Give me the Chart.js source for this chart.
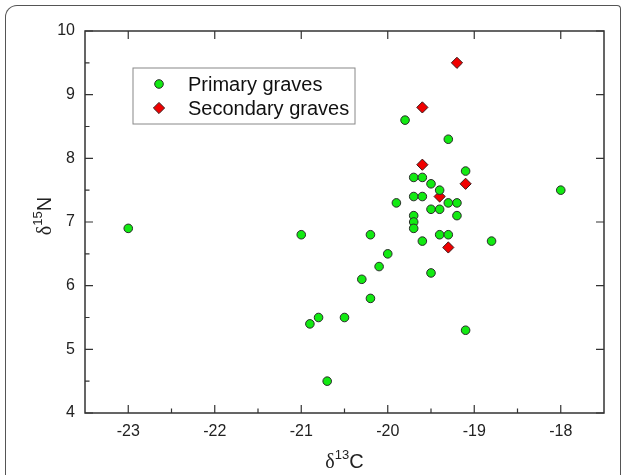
<!DOCTYPE html>
<html lang="en">
<head>
  <meta charset="UTF-8" />
  <title>Carbon and nitrogen isotopes by grave type</title>
  <script src="https://cdn.jsdelivr.net/npm/chart.js"></script>
  <style>
    body {
      margin: 0;
      background: #fff;
      overflow: hidden;
    }
    .frame {
      position: absolute;
      left: 5px;
      top: 5px;
      width: 614px;
      height: 520px;
      border: 1.5px solid #555;
      border-bottom: none;
      border-radius: 12px 4px 0 0;
    }
    #isoChart {
      position: absolute;
      left: 0;
      top: 0;
    }
  </style>
</head>
<body>

<div class="frame"></div>
<canvas id="isoChart" width="624" height="475"></canvas>

<script>
  // d13C / d15N values
  const primaryC = [-23.0, -21.0, -20.9, -20.8, -20.7, -20.5, -20.3, -20.2, -20.2, -20.1,
                    -20.0, -19.9, -19.8, -19.7, -19.6, -19.7, -19.6, -19.7, -19.7, -19.7,
                    -19.6, -19.5, -19.5, -19.5, -19.4, -19.4, -19.4, -19.3, -19.3, -19.3,
                    -19.2, -19.2, -19.1, -19.1, -18.8, -18.0];
  const primaryN = [6.9, 6.8, 5.4, 5.5, 4.5, 5.5, 6.1, 6.8, 5.8, 6.3,
                    6.5, 7.3, 8.6, 7.7, 7.7, 7.4, 7.4, 7.1, 7.0, 6.9,
                    6.7, 7.6, 7.2, 6.2, 7.5, 7.2, 6.8, 8.3, 7.3, 6.8,
                    7.3, 7.1, 7.8, 5.3, 6.7, 7.5];

  const secondaryC = [-19.2, -19.6, -19.6, -19.1, -19.4, -19.3];
  const secondaryN = [9.5, 8.8, 7.9, 7.6, 7.4, 6.6];

  const seriesNames = ['Primary graves', 'Secondary graves'];

  const xTicks = [-23, -22, -21, -20, -19, -18];
  const xMinor = [-22.5, -21.5, -20.5, -19.5, -18.5];
  const yTicks = [4, 5, 6, 7, 8, 9, 10];
  const yMinor = [4.5, 5.5, 6.5, 7.5, 8.5, 9.5];

  const FONT = 'Liberation Sans, Arial, sans-serif';

  function toPoints(xs, ys) {
    return xs.map((x, i) => ({ x: x, y: ys[i] }));
  }

  // frame, inward ticks, axis titles and boxed legend
  const decorPlugin = {
    id: 'decor',
    afterDraw(chart) {
      const ctx = chart.ctx;
      const a = chart.chartArea;
      const xs = chart.scales.x;
      const ys = chart.scales.y;
      ctx.save();
      ctx.strokeStyle = '#333';
      ctx.lineWidth = 1.5;
      ctx.strokeRect(a.left, a.top, a.right - a.left, a.bottom - a.top);

      ctx.lineWidth = 1.2;
      ctx.beginPath();
      xTicks.forEach(v => {
        const px = xs.getPixelForValue(v);
        ctx.moveTo(px, a.bottom); ctx.lineTo(px, a.bottom - 8);
        ctx.moveTo(px, a.top); ctx.lineTo(px, a.top + 8);
      });
      xMinor.forEach(v => {
        const px = xs.getPixelForValue(v);
        ctx.moveTo(px, a.bottom); ctx.lineTo(px, a.bottom - 4.5);
      });
      yTicks.forEach(v => {
        const py = ys.getPixelForValue(v);
        ctx.moveTo(a.left, py); ctx.lineTo(a.left + 8, py);
        ctx.moveTo(a.right, py); ctx.lineTo(a.right - 8, py);
      });
      yMinor.forEach(v => {
        const py = ys.getPixelForValue(v);
        ctx.moveTo(a.left, py); ctx.lineTo(a.left + 4.5, py);
      });
      ctx.stroke();

      // axis titles with superscripts
      ctx.fillStyle = '#222';
      ctx.textBaseline = 'alphabetic';
      function isoLabel(x, y, mass, elem) {
        ctx.textAlign = 'left';
        ctx.font = '20px Liberation Serif, serif';
        const wd = ctx.measureText('\u03b4').width;
        ctx.font = '13px ' + FONT;
        const wm = ctx.measureText(mass).width;
        ctx.font = '20px ' + FONT;
        const we = ctx.measureText(elem).width;
        let cx = x - (wd + wm + we) / 2;
        ctx.font = '20px Liberation Serif, serif';
        ctx.fillText('\u03b4', cx, y);
        cx += wd;
        ctx.font = '13px ' + FONT;
        ctx.fillText(mass, cx, y - 9);
        cx += wm;
        ctx.font = '20px ' + FONT;
        ctx.fillText(elem, cx, y);
      }
      isoLabel((a.left + a.right) / 2, 468, '13', 'C');
      ctx.save();
      ctx.translate(51, (a.top + a.bottom) / 2 - 6);
      ctx.rotate(-Math.PI / 2);
      isoLabel(0, 0, '15', 'N');
      ctx.restore();

      // legend box
      const lx = 133, ly = 68, lw = 222, lh = 56;
      ctx.strokeStyle = '#888';
      ctx.lineWidth = 1;
      ctx.strokeRect(lx, ly, lw, lh);
      ctx.font = '20px ' + FONT;
      ctx.textAlign = 'left';
      ctx.textBaseline = 'middle';
      chart.data.datasets.forEach((ds, i) => {
        const my = ly + 16 + i * 24;
        ctx.fillStyle = ds.backgroundColor;
        ctx.strokeStyle = ds.borderColor;
        ctx.lineWidth = ds.borderWidth;
        Chart.helpers.drawPoint(ctx, {
          pointStyle: ds.pointStyle,
          radius: ds.pointRadius,
          rotation: 0,
          borderWidth: ds.borderWidth
        }, lx + 26, my);
        ctx.fillStyle = '#111';
        ctx.fillText(ds.label, lx + 55, my + 1);
      });
      ctx.restore();
    }
  };

  new Chart(document.getElementById('isoChart'), {
    type: 'scatter',
    data: {
      datasets: [
        {
          label: seriesNames[0],
          data: toPoints(primaryC, primaryN),
          pointStyle: 'circle',
          pointRadius: 4.3,
          pointHoverRadius: 4.3,
          backgroundColor: '#12ea12',
          borderColor: '#2a2a2a',
          borderWidth: 1
        },
        {
          label: seriesNames[1],
          data: toPoints(secondaryC, secondaryN),
          pointStyle: 'rectRot',
          pointRadius: 5.6,
          pointHoverRadius: 5.6,
          backgroundColor: '#f00000',
          borderColor: '#3a1a1a',
          borderWidth: 1
        }
      ]
    },
    options: {
      responsive: false,
      animation: false,
      layout: { padding: { top: 31, right: 20, left: 0, bottom: 0 } },
      plugins: {
        legend: { display: false },
        tooltip: { enabled: false }
      },
      scales: {
        x: {
          type: 'linear',
          min: -23.5,
          max: -17.5,
          border: { display: false },
          grid: { display: false, drawTicks: false },
          afterBuildTicks: s => { s.ticks = xTicks.map(v => ({ value: v })); },
          afterFit: s => { s.height = 62; },
          ticks: {
            padding: 9,
            color: '#222',
            font: { family: FONT, size: 16 }
          }
        },
        y: {
          type: 'linear',
          min: 4,
          max: 10,
          border: { display: false },
          grid: { display: false, drawTicks: false },
          afterBuildTicks: s => { s.ticks = yTicks.map(v => ({ value: v })); },
          afterFit: s => { s.width = 85; },
          ticks: {
            padding: 10,
            color: '#222',
            font: { family: FONT, size: 16 }
          }
        }
      }
    },
    plugins: [decorPlugin]
  });
</script>
</body>
</html>
